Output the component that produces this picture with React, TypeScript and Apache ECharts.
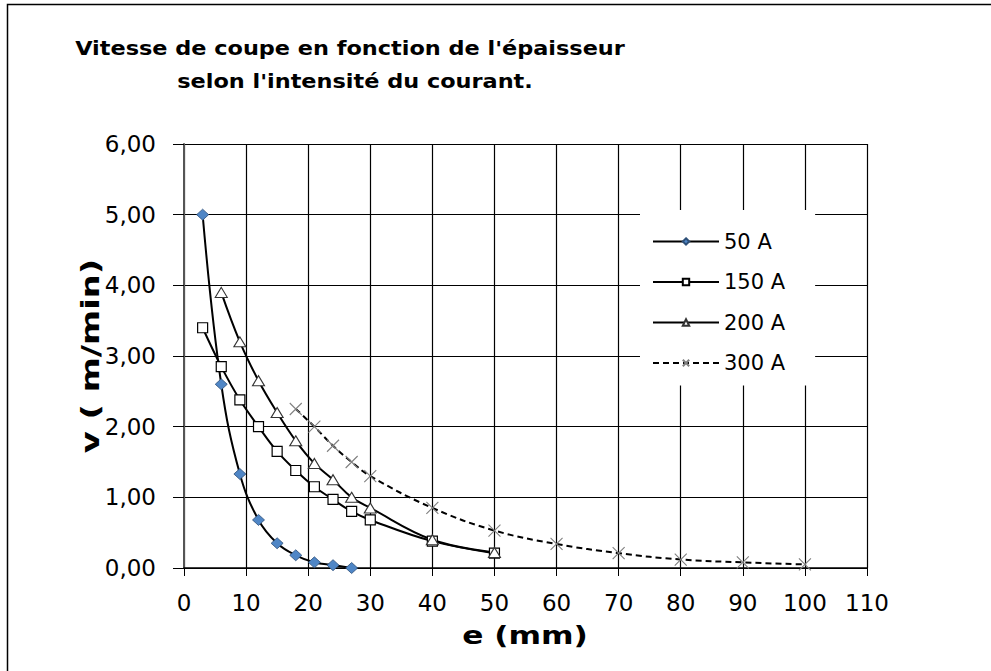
import React, { useEffect, useRef } from "react";
import * as echarts from "echarts";

const titleLines = ["Vitesse de coupe en fonction de l'épaisseur", "selon l'intensité du courant."];
const xName = "e (mm)";
const yName = "v ( m/min)";
const seriesNames = ["50 A", "150 A", "200 A", "300 A"];

const e50 = [3, 6, 9, 12, 15, 18, 21, 24, 27];
const v50 = [5.0, 2.6, 1.33, 0.68, 0.35, 0.18, 0.08, 0.04, 0.0];
const e150 = [3, 6, 9, 12, 15, 18, 21, 24, 27, 30, 40, 50];
const v150 = [3.4, 2.85, 2.38, 2.0, 1.65, 1.38, 1.15, 0.97, 0.8, 0.68, 0.38, 0.21];
const e200 = [6, 9, 12, 15, 18, 21, 24, 27, 30, 40, 50];
const v200 = [3.9, 3.2, 2.65, 2.2, 1.8, 1.48, 1.25, 1.0, 0.85, 0.4, 0.22];
const e300 = [18, 21, 24, 27, 30, 40, 50, 60, 70, 80, 90, 100];
const v300 = [2.25, 2.0, 1.73, 1.5, 1.3, 0.85, 0.53, 0.34, 0.21, 0.12, 0.08, 0.05];

const xMin = 0, xMax = 110, xStep = 10;
const yMin = 0, yMax = 6, yStep = 1;

const zip = (xs: number[], ys: number[]) => xs.map((x, i) => [x, ys[i]]);
const FONT = "'DejaVu Sans', Verdana, sans-serif";

export default function App() {
  const ref = useRef<HTMLDivElement>(null);
  useEffect(() => {
    if (!ref.current) return;
    const chart = echarts.init(ref.current, undefined, { renderer: "svg" });
    const base = { type: "line", smooth: 0.4, showAllSymbol: true };
    chart.setOption({
      animation: false,
      backgroundColor: "#fff",
      textStyle: { fontFamily: FONT },
      graphic: [
        { type: "rect", z: -10, shape: { x: 7.5, y: 4.5, width: 1100, height: 800 }, style: { fill: "none", stroke: "#000", lineWidth: 1.5 } },
        { type: "text", x: 350, y: 48, scaleX: 1.12, style: { text: titleLines[0], textAlign: "center", textVerticalAlign: "middle", font: `bold 20px ${FONT}`, fill: "#000" } },
        { type: "text", x: 355, y: 81, scaleX: 1.12, style: { text: titleLines[1], textAlign: "center", textVerticalAlign: "middle", font: `bold 20px ${FONT}`, fill: "#000" } },
        { type: "text", x: 525, y: 636, scaleX: 1.25, style: { text: xName, textAlign: "center", textVerticalAlign: "middle", font: `bold 25px ${FONT}`, fill: "#000" } },
        { type: "text", x: 90, y: 356, rotation: Math.PI / 2, scaleX: 1.35, style: { text: yName, textAlign: "center", textVerticalAlign: "middle", font: `bold 25px ${FONT}`, fill: "#000" } },
      ],
      grid: { left: 184, top: 144, right: 124, bottom: 103, containLabel: false },
      legend: {
        orient: "vertical",
        left: 640,
        top: 210,
        padding: [21, 30, 12, 12],
        backgroundColor: "#fff",
        itemWidth: 66,
        itemHeight: 8,
        itemGap: 19.5,
        textStyle: { fontFamily: FONT, fontSize: 21, color: "#000", lineHeight: 20 },
        data: seriesNames,
      },
      xAxis: {
        type: "value",
        min: xMin, max: xMax, interval: xStep,
        axisLine: { lineStyle: { color: "#000", width: 1.5 } },
        axisTick: { show: true, inside: false, length: 8, lineStyle: { color: "#000" } },
        axisLabel: { fontFamily: FONT, fontSize: 23, color: "#000", margin: 23 },
        splitLine: { show: true, lineStyle: { color: "#000", width: 1.2 } },
      },
      yAxis: {
        type: "value",
        min: yMin, max: yMax, interval: yStep,
        axisLine: { show: true, lineStyle: { color: "#555", width: 2 } },
        axisTick: { show: true, inside: false, length: 11, lineStyle: { color: "#000" } },
        axisLabel: { fontFamily: FONT, fontSize: 23, color: "#000", margin: 28, formatter: (v: number) => v.toFixed(2).replace(".", ",") },
        splitLine: { show: true, lineStyle: { color: "#000", width: 1.2 } },
      },
      series: [
        {
          ...base, name: seriesNames[0], data: zip(e50, v50),
          symbol: "diamond", symbolSize: [12, 11],
          itemStyle: { color: "#4F86C6", borderColor: "#2d4f78", borderWidth: 0.8 },
          lineStyle: { color: "#000", width: 2 },
        },
        {
          ...base, name: seriesNames[1], data: zip(e150, v150),
          symbol: "rect", symbolSize: 10,
          itemStyle: { color: "#fff", borderColor: "#000", borderWidth: 1.2 },
          lineStyle: { color: "#000", width: 2 },
        },
        {
          ...base, name: seriesNames[2], data: zip(e200, v200),
          symbol: "triangle", symbolSize: [12, 10],
          itemStyle: { color: "#fff", borderColor: "#333", borderWidth: 1.1 },
          lineStyle: { color: "#000", width: 2 },
        },
        {
          ...base, name: seriesNames[3], data: zip(e300, v300),
          symbol: "path://M0,0L10,10M10,0L0,10", symbolSize: 12,
          itemStyle: { color: "none", borderColor: "#808080", borderWidth: 1.1 },
          lineStyle: { color: "#000", width: 2, type: [6, 4] },
        },
      ],
    });
    return () => chart.dispose();
  }, []);
  return <div ref={ref} style={{ position: "fixed", left: 0, top: 0, width: 991, height: 671 }} />;
}
